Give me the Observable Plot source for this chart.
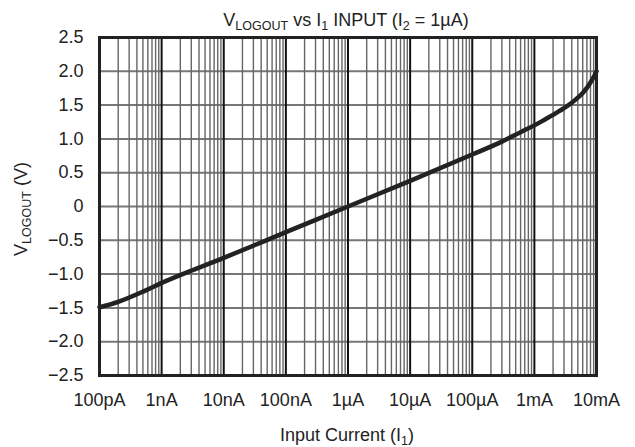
<!DOCTYPE html>
<html>
<head>
<meta charset="utf-8">
<script src="https://cdn.jsdelivr.net/npm/d3@7"></script>
<script src="https://cdn.jsdelivr.net/npm/@observablehq/plot@0.6"></script>
<style>
  html, body { margin: 0; padding: 0; background: #fff; }
  #chart { width: 635px; height: 447px; }
  svg { font-family: "Liberation Sans", Arial, Helvetica, sans-serif; }
</style>
</head>
<body>
<div id="chart"></div>
<script>
// Input current I1 (A) and VLOGOUT (V)
const current = [1e-10, 2e-10, 5e-10, 1e-9, 1e-8, 1e-7, 1e-6, 1e-5, 1e-4, 3e-4, 6e-4, 1e-3, 1.5e-3, 2e-3, 2.5e-3, 3e-3, 4e-3, 5e-3, 6e-3, 7e-3, 8e-3, 9e-3, 1e-2];
const vlogout = [-1.49, -1.41, -1.26, -1.13, -0.76, -0.38, 0.0, 0.38, 0.77, 0.96, 1.10, 1.20, 1.29, 1.355, 1.41, 1.455, 1.535, 1.61, 1.68, 1.755, 1.835, 1.915, 2.0];

const xTicks = [1e-10, 1e-9, 1e-8, 1e-7, 1e-6, 1e-5, 1e-4, 1e-3, 1e-2];
const xTickLabels = ["100pA", "1nA", "10nA", "100nA", "1\u00b5A", "10\u00b5A", "100\u00b5A", "1mA", "10mA"];
const yTicks = [2.5, 2.0, 1.5, 1.0, 0.5, 0, -0.5, -1.0, -1.5, -2.0, -2.5];
const yTickLabels = ["2.5", "2.0", "1.5", "1.0", "0.5", "0", "\u22120.5", "\u22121.0", "\u22121.5", "\u22122.0", "\u22122.5"];

const data = current.map((c, i) => ({c, v: vlogout[i]}));
const minor = [];
for (let d = 0; d < xTicks.length - 1; d++) for (let k = 2; k <= 9; k++) minor.push(xTicks[d] * k);

const svg = Plot.plot({
  width: 635,
  height: 447,
  marginLeft: 99,
  marginRight: 39,
  marginTop: 37,
  marginBottom: 72,
  style: {fontFamily: '"Liberation Sans", Arial, sans-serif', fontSize: "18px", color: "#222", background: "#fff"},
  x: {type: "log", domain: [1e-10, 1e-2]},
  y: {domain: [-2.5, 2.5]},
  marks: [
    Plot.ruleY(yTicks, {stroke: "#777", strokeWidth: 2}),
    Plot.ruleX(minor, {stroke: "#666", strokeWidth: 1.4}),
    Plot.ruleX(xTicks, {stroke: "#111", strokeWidth: 2}),
    Plot.frame({stroke: "#222", strokeWidth: 3}),
    Plot.line(data, {x: "c", y: "v", stroke: "#222", strokeWidth: 4.5, curve: "monotone-x"}),
    Plot.axisX(xTicks, {tickFormat: (d) => xTickLabels[xTicks.indexOf(d)], tickSize: 0, tickPadding: 18, label: null, fontSize: 18, fill: "#222"}),
    Plot.axisY(yTicks, {tickFormat: d => yTickLabels[yTicks.indexOf(d)], tickSize: 0, tickPadding: 16, label: null, fontSize: 18, fill: "#222"})
  ]
});

const s = d3.select(svg);
// Title
const t = s.append("text").attr("x", 346).attr("y", 26).attr("text-anchor", "middle")
  .attr("fill", "#222").style("font-size", "18px");
t.append("tspan").text("V");
t.append("tspan").attr("dy", 4).style("font-size", "12.5px").text("LOGOUT");
t.append("tspan").attr("dy", -4).text(" vs I");
t.append("tspan").attr("dy", 4).style("font-size", "12.5px").text("1");
t.append("tspan").attr("dy", -4).text(" INPUT (I");
t.append("tspan").attr("dy", 4).style("font-size", "12.5px").text("2");
t.append("tspan").attr("dy", -4).text(" = 1\u00b5A)");

// X axis label
const xl = s.append("text").attr("x", 347).attr("y", 441).attr("text-anchor", "middle")
  .attr("fill", "#222").style("font-size", "18px");
xl.append("tspan").text("Input Current (I");
xl.append("tspan").attr("dy", 4).style("font-size", "12.5px").text("1");
xl.append("tspan").attr("dy", -4).text(")");

// Y axis label
const yl = s.append("text").attr("transform", "translate(27,209) rotate(-90)").attr("text-anchor", "middle")
  .attr("fill", "#222").style("font-size", "18px");
yl.append("tspan").text("V");
yl.append("tspan").attr("dy", 4).style("font-size", "12.5px").text("LOGOUT");
yl.append("tspan").attr("dy", -4).text(" (V)");

document.getElementById("chart").appendChild(svg);
</script>
</body>
</html>
